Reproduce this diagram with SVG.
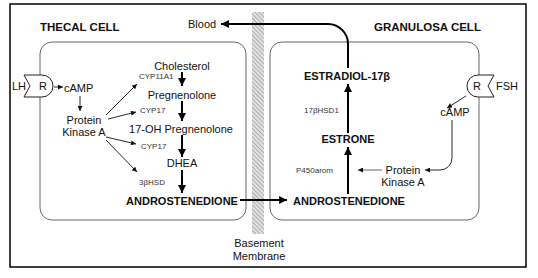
<svg xmlns="http://www.w3.org/2000/svg" width="538" height="278" viewBox="0 0 538 278">
<style>
text{font-family:"Liberation Sans",Arial,sans-serif;fill:#111}
.lbl{font-size:11px}
.bold{font-size:11px;font-weight:bold}
.head{font-size:11.5px;font-weight:bold}
.enz{font-size:8px;fill:#333}
.cell{fill:none;stroke:#666;stroke-width:1}
.main{fill:none;stroke:#000;stroke-width:2;marker-end:url(#big)}
.thin{fill:none;stroke:#111;stroke-width:0.9;marker-end:url(#small)}
.rec{fill:#fff;stroke:#222;stroke-width:1}
</style>
<defs>
<marker id="big" viewBox="0 0 10 10" refX="10" refY="5" markerWidth="10" markerHeight="8" markerUnits="userSpaceOnUse" orient="auto">
<path d="M0,0 L10,5 L0,10 Z" fill="#000"/>
</marker>
<marker id="small" viewBox="0 0 10 10" refX="10" refY="5" markerWidth="7" markerHeight="5" markerUnits="userSpaceOnUse" orient="auto">
<path d="M0,0 L10,5 L0,10 Z" fill="#111"/>
</marker>
<pattern id="hatch" width="3" height="3" patternUnits="userSpaceOnUse" patternTransform="rotate(-45)">
<rect width="3" height="3" fill="#e2e2e2"/>
<line x1="0" y1="0" x2="0" y2="3" stroke="#888" stroke-width="1.2"/>
</pattern>
</defs>
<rect x="0" y="0" width="538" height="278" fill="#fff"/>
<rect x="10" y="4" width="516" height="263" fill="none" stroke="#000" stroke-width="1.5"/>

<g id="membrane">
<rect x="252" y="12" width="12" height="222" fill="url(#hatch)"/>
<text class="lbl" x="259" y="247" text-anchor="middle">Basement</text>
<text class="lbl" x="259" y="260" text-anchor="middle">Membrane</text>
</g>

<g id="thecal-cell">
<rect class="cell" x="40" y="42" width="206" height="178" rx="12"/>
<text class="head" x="40" y="31">THECAL CELL</text>
</g>
<g id="granulosa-cell">
<rect class="cell" x="270" y="42" width="209" height="178" rx="12"/>
<text class="head" x="374" y="31">GRANULOSA CELL</text>
</g>

<g id="blood"><text class="lbl" x="188" y="28">Blood</text></g>

<g id="lh-receptor">
<path class="rec" d="M24,75 H42 A11,11 0 0 1 42,97 H24 L30,86 Z"/>
<text class="lbl" x="12" y="90">LH</text>
<text class="lbl" x="43" y="90" text-anchor="middle">R</text>
</g>
<g id="fsh-receptor">
<path class="rec" d="M494,75 H478 A11,11 0 0 0 478,97 H494 L488,86 Z"/>
<text class="lbl" x="496" y="90">FSH</text>
<text class="lbl" x="477" y="90" text-anchor="middle">R</text>
</g>

<g id="t-camp"><text class="lbl" x="64" y="92">cAMP</text></g>
<g id="t-pka"><text class="lbl" x="84" y="124" text-anchor="middle">Protein</text><text class="lbl" x="84" y="136" text-anchor="middle">Kinase A</text></g>
<g id="cholesterol"><text class="lbl" x="182" y="70" text-anchor="middle">Cholesterol</text></g>
<g id="cyp11a1"><text class="enz" x="139" y="79">CYP11A1</text></g>
<g id="pregnenolone"><text class="lbl" x="182" y="99" text-anchor="middle">Pregnenolone</text></g>
<g id="cyp17a"><text class="enz" x="140" y="113">CYP17</text></g>
<g id="oh-pregnenolone"><text class="lbl" x="181" y="133" text-anchor="middle">17-OH Pregnenolone</text></g>
<g id="cyp17b"><text class="enz" x="141" y="149">CYP17</text></g>
<g id="dhea"><text class="lbl" x="182" y="167" text-anchor="middle">DHEA</text></g>
<g id="hsd3b"><text class="enz" x="139" y="185">3βHSD</text></g>
<g id="andro-t"><text class="bold" x="182" y="205" text-anchor="middle">ANDROSTENEDIONE</text></g>

<g id="andro-g"><text class="bold" x="349" y="205" text-anchor="middle">ANDROSTENEDIONE</text></g>
<g id="p450arom"><text class="enz" x="296" y="173">P450arom</text></g>
<g id="estrone"><text class="bold" x="348" y="143" text-anchor="middle">ESTRONE</text></g>
<g id="hsd17b1"><text class="enz" x="304" y="113">17βHSD1</text></g>
<g id="estradiol"><text class="bold" x="347" y="80" text-anchor="middle">ESTRADIOL-17β</text></g>
<g id="g-camp"><text class="lbl" x="455" y="116" text-anchor="middle">cAMP</text></g>
<g id="g-pka"><text class="lbl" x="403" y="174" text-anchor="middle">Protein</text><text class="lbl" x="403" y="186" text-anchor="middle">Kinase A</text></g>

<g id="connectors">
<path class="main" d="M182,72 V86"/>
<path class="main" d="M182,101 V121"/>
<path class="main" d="M182,135 V157"/>
<path class="main" d="M182,170 V193"/>
<path class="main" d="M240,200 H287"/>
<path class="main" d="M348,194 V147"/>
<path class="main" d="M348,133 V84"/>
<path class="main" d="M348,68 V44 A20,20 0 0 0 328,24 H221"/>
<path class="thin" d="M54,87 H63"/>
<path class="thin" d="M80,96 V111"/>
<path class="thin" d="M106,115 L137,84"/>
<path class="thin" d="M108,119 L136,112"/>
<path class="thin" d="M106,137 L136,144"/>
<path class="thin" d="M106,140 L137,172"/>
<path class="thin" d="M466,96 L447,108"/>
<path class="thin" d="M452,120 V158 A12,12 0 0 1 440,170 H425"/>
<path class="thin" d="M382,170 H358" style="stroke:#555"/>
</g>
</svg>
